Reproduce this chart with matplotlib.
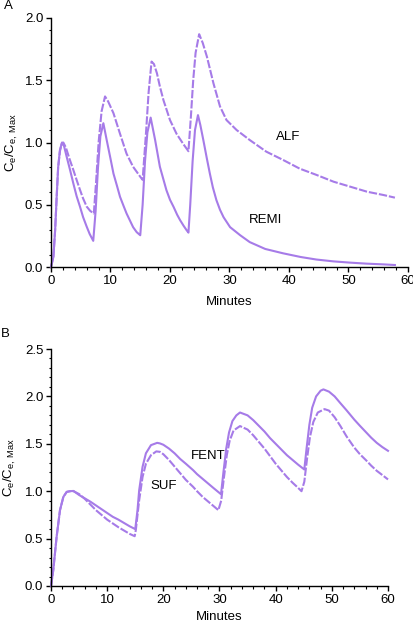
import matplotlib
matplotlib.use("Agg")
import matplotlib.pyplot as plt
from matplotlib.ticker import MultipleLocator, FormatStrFormatter

plt.rcParams['font.family'] = ['Liberation Sans', 'DejaVu Sans']
plt.rcParams['mathtext.fontset'] = 'custom'
plt.rcParams['mathtext.rm'] = 'Liberation Sans'

PURPLE = "#a67be8"
FS = 9.5

# ---- Panel A: REMI (solid) and ALF (dashed) ----
remi_t = [0, 0.4, 0.7, 0.95, 1.2, 1.5, 1.85, 2.2, 2.63, 3.2, 3.75, 4.3, 4.87, 5.4, 6.0, 6.5, 7.1,
          7.5, 7.9, 8.3, 8.8, 9.36, 10, 10.5, 11.1, 11.6, 12.2, 12.7, 13.3, 13.8, 14.4, 15.0,
          15.4, 15.8, 16.2, 16.75, 17.5, 18.3, 19.4, 20.0, 20.6, 21.2, 21.7, 22.3, 22.8, 23.1,
          23.4, 23.8, 24.2, 24.7, 25.1, 25.6, 26.2, 26.7, 27.2, 27.8, 28.4, 29.0, 30.1, 31.8,
          33.4, 36, 39, 42, 44.6, 47.5, 50.3, 53, 55.9, 57.8]
remi_y = [0, 0.08, 0.30, 0.56, 0.80, 0.94, 1.0, 0.97, 0.886, 0.78, 0.672, 0.57, 0.485, 0.40, 0.324, 0.265, 0.21,
          0.45, 0.80, 1.05, 1.155, 1.02, 0.87, 0.75, 0.65, 0.564, 0.49, 0.43, 0.37, 0.32, 0.28, 0.255,
          0.50, 0.85, 1.08, 1.20, 1.02, 0.805, 0.617, 0.54, 0.483, 0.42, 0.376, 0.33, 0.295, 0.276,
          0.50, 0.85, 1.10, 1.22, 1.14, 1.02, 0.87, 0.75, 0.64, 0.537, 0.46, 0.40, 0.32, 0.255,
          0.20, 0.145, 0.11, 0.08, 0.06, 0.045, 0.035, 0.027, 0.021, 0.016]

alf_t = [0, 0.4, 0.7, 0.95, 1.2, 1.5, 1.8, 2.07, 2.5, 3.1, 3.75, 4.3, 4.87, 5.4, 6.0, 6.6, 7.2,
         7.6, 8.0, 8.5, 9.08, 9.6, 10.5, 11.6, 12.7, 13.8, 15.0, 15.4,
         15.7, 16.0, 16.4, 16.9, 17.3, 17.8, 18.3, 18.9, 20.0, 21.1, 22.2, 23.1,
         23.5, 23.9, 24.3, 24.9, 25.5, 26.2, 27.3, 28.4, 29.5, 31.2, 33.4, 36.2, 39.0,
         41.8, 44.6, 47.5, 50.3, 53.1, 55.9, 57.8]
alf_y = [0, 0.08, 0.30, 0.56, 0.80, 0.93, 0.99, 1.0, 0.96, 0.87, 0.78, 0.70, 0.62, 0.55, 0.485, 0.45, 0.43,
         0.70, 1.00, 1.25, 1.37, 1.33, 1.235, 1.07, 0.91, 0.805, 0.725, 0.70,
         0.90, 1.10, 1.40, 1.65, 1.63, 1.557, 1.45, 1.34, 1.18, 1.07, 0.99, 0.93,
         1.20, 1.50, 1.72, 1.87, 1.80, 1.69, 1.476, 1.29, 1.18, 1.10, 1.02, 0.926, 0.86,
         0.79, 0.74, 0.685, 0.645, 0.605, 0.578, 0.557]

# ---- Panel B: FENT (solid) and SUF (dashed) ----
fent_t = [0, 0.4, 1.0, 1.6, 2.2, 2.8, 3.4, 4.0, 5, 6, 7, 8, 9, 10, 11, 12, 13, 14, 15.0,
          15.4, 15.7, 16.3, 16.9, 17.8, 18.9, 19.4, 20, 21, 22, 23, 24, 25.3, 26, 27, 28, 29, 30.27,
          30.7, 31.2, 31.7, 32.3, 33.0, 33.65, 35, 36, 37, 38, 39, 40, 41, 42, 43, 44, 45.1,
          45.5, 46.0, 46.5, 47.2, 48.0, 48.5, 49.5, 50.5, 51.5, 52.6, 54, 55, 56.2, 57, 58, 59, 60]
fent_y = [0, 0.165, 0.518, 0.80, 0.94, 0.993, 1.0, 1.003, 0.96, 0.925, 0.89, 0.85, 0.81, 0.77, 0.73, 0.70, 0.665, 0.63, 0.60,
          0.80, 1.01, 1.257, 1.40, 1.486, 1.51, 1.504, 1.49, 1.45, 1.40, 1.34, 1.29, 1.222, 1.18, 1.13, 1.08, 1.03, 0.968,
          1.20, 1.45, 1.62, 1.74, 1.80, 1.83, 1.80, 1.75, 1.69, 1.63, 1.56, 1.50, 1.44, 1.38, 1.33, 1.28, 1.229,
          1.45, 1.70, 1.88, 2.00, 2.06, 2.074, 2.05, 2.00, 1.93, 1.855, 1.755, 1.69, 1.615, 1.565, 1.51, 1.465, 1.426]

suf_t = [0, 0.4, 1.0, 1.6, 2.2, 2.8, 3.4, 4.0, 5, 6, 7, 8, 9, 10, 11, 12, 13, 14, 14.9,
         15.1, 15.7, 16.3, 16.9, 17.8, 18.75, 19.4, 20, 21, 22, 23, 24, 25.3, 26, 27, 28, 29, 29.8,
         30.3, 30.8, 31.3, 31.8, 32.5, 33.65, 35, 36, 37, 38, 39, 40, 41, 42, 43, 44, 44.6,
         45.1, 45.6, 46.1, 46.7, 47.5, 48.7, 49.5, 50.5, 51.5, 52.6, 54, 55, 56.2, 57, 58, 59, 60]
suf_y = [0, 0.165, 0.518, 0.80, 0.94, 0.993, 1.0, 1.0, 0.97, 0.92, 0.86, 0.80, 0.75, 0.70, 0.66, 0.62, 0.585, 0.55, 0.525,
         0.59, 0.905, 1.15, 1.29, 1.38, 1.42, 1.415, 1.39, 1.33, 1.26, 1.19, 1.12, 1.046, 1.0, 0.94, 0.89, 0.84, 0.80,
         0.90, 1.15, 1.38, 1.53, 1.64, 1.687, 1.65, 1.59, 1.52, 1.45, 1.37, 1.29, 1.22, 1.15, 1.09, 1.035, 1.0,
         1.10, 1.35, 1.57, 1.73, 1.83, 1.866, 1.85, 1.78, 1.69, 1.58, 1.46, 1.39, 1.32, 1.27, 1.215, 1.17, 1.124]

ylab = r'$\mathregular{C_e/C_{e,\,Max}}$'
dash = (0, (4, 0.9))

fig = plt.figure(figsize=(4.14, 6.22), dpi=100)
axA = fig.add_axes([51/414, 1 - 267/622, 357/414, 249/622])
axB = fig.add_axes([51/414, 1 - 586/622, 337/414, 237/622])


def style(ax, ymax, xlab_y, ylab_x):
    for s in ["top", "right"]:
        ax.spines[s].set_visible(False)
    for s in ["left", "bottom"]:
        ax.spines[s].set_linewidth(1.0)
    ax.set_xlim(0, 60)
    ax.set_ylim(0, ymax)
    ax.xaxis.set_major_locator(MultipleLocator(10))
    ax.xaxis.set_minor_locator(MultipleLocator(2))
    ax.yaxis.set_major_locator(MultipleLocator(0.5))
    ax.yaxis.set_minor_locator(MultipleLocator(0.1))
    ax.yaxis.set_major_formatter(FormatStrFormatter('%.1f'))
    ax.tick_params(which='major', direction='out', length=3.6, width=1.0, labelsize=FS, pad=2)
    ax.tick_params(which='minor', direction='out', length=1.8, width=0.8)
    ax.set_xlabel("Minutes", fontsize=FS)
    ax.xaxis.set_label_coords(0.5, xlab_y)
    ax.xaxis.label.set_va('center')
    ax.set_ylabel(ylab, fontsize=FS)
    ax.yaxis.set_label_coords(ylab_x, 0.5)
    ax.yaxis.label.set_va('center')


axA.plot(remi_t, remi_y, color=PURPLE, lw=1.5, clip_on=False)
axA.plot(alf_t, alf_y, color=PURPLE, lw=1.5, ls=dash, clip_on=False)
axA.text(39.8, 1.044, "ALF", fontsize=FS, ha='center', va='center')
axA.text(36.1, 0.377, "REMI", fontsize=FS, ha='center', va='center')
style(axA, 2.0, -0.1406, -0.109)

axB.plot(fent_t, fent_y, color=PURPLE, lw=1.5, clip_on=False)
axB.plot(suf_t, suf_y, color=PURPLE, lw=1.5, ls=dash, clip_on=False)
axB.text(27.9, 1.374, "FENT", fontsize=FS, ha='center', va='center')
axB.text(20.1, 1.058, "SUF", fontsize=FS, ha='center', va='center')
style(axB, 2.5, -0.131, -0.122)

fig.text(4/414, 1 - 6/622, "A", fontsize=FS, ha='left', va='center')
fig.text(1/414, 1 - 334/622, "B", fontsize=FS, ha='left', va='center')

fig.savefig("out.png", dpi=100)
